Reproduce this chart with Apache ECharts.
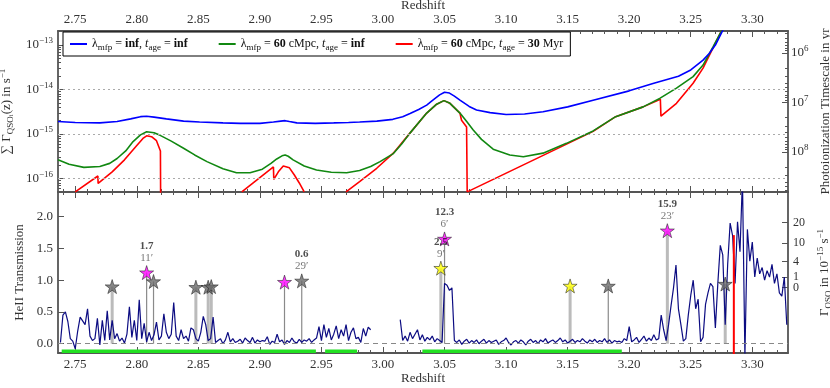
<!DOCTYPE html>
<html><head><meta charset="utf-8">
<script src="https://cdn.jsdelivr.net/npm/echarts@6/dist/echarts.min.js"></script>
<style>html,body{margin:0;padding:0;background:#fff}#c{width:830px;height:388px}</style>
</head><body><div id="c"></div>
<script>
// ---------------- DATA ----------------
// Redshift tick labels
const zMajorTicks = [2.75,2.80,2.85,2.90,2.95,3.00,3.05,3.10,3.15,3.20,3.25,3.30];
const zMinorTicks = [2.74,2.76,2.77,2.78,2.79,2.81,2.82,2.83,2.84,2.86,2.87,2.88,2.89,2.91,2.92,2.93,2.94,2.96,2.97,2.98,2.99,
  3.01,3.02,3.03,3.04,3.06,3.07,3.08,3.09,3.11,3.12,3.13,3.14,3.16,3.17,3.18,3.19,3.21,3.22,3.23,3.24,3.26,3.27,3.28,3.29,3.31,3.32];
const gammaExpTicks = [-16,-15,-14,-13];      // log10 of summed Gamma (s^-1)
const timeExpTicks = [6,7,8];                 // log10 of timescale (yr)
const transTicks = [0,0.5,1.0,1.5,2.0];
const gammaQsoTickLabels = ['0','1','4','10','20'];     // right axis of lower panel (10^-15 s^-1)
const gammaQsoTickTrans  = [0.882,1.046,1.291,1.581,1.905]; // where they sit on transmission scale

// Upper panel curves: redshift and log10(sum Gamma_QSO)
const blueZ = [2.736,2.750,2.770,2.784,2.795,2.803,2.808,2.814,2.824,2.838,2.851,2.870,2.884,2.900,2.911,2.917,2.9205,2.924,2.930,2.945,2.960,2.972,2.981,2.995,3.008,3.016,3.022,3.029,3.0355,3.040,3.046,3.050,3.054,3.058,3.0625,3.070,3.076,3.087,3.100,3.115,3.130,3.150,3.1707,3.200,3.220,3.240,3.250,3.260,3.265,3.270,3.2757,3.280];
const blueG = [-14.72,-14.74,-14.75,-14.72,-14.66,-14.61,-14.60,-14.62,-14.66,-14.71,-14.73,-14.75,-14.76,-14.76,-14.73,-14.71,-14.70,-14.72,-14.75,-14.76,-14.75,-14.74,-14.73,-14.71,-14.67,-14.61,-14.54,-14.45,-14.35,-14.25,-14.12,-14.06,-14.08,-14.15,-14.24,-14.38,-14.46,-14.52,-14.56,-14.55,-14.50,-14.39,-14.24,-14.03,-13.86,-13.70,-13.56,-13.34,-13.19,-13.00,-12.69,-12.45];
const greenZ = [2.736,2.745,2.757,2.770,2.778,2.784,2.791,2.797,2.803,2.808,2.814,2.819,2.828,2.838,2.847,2.857,2.870,2.881,2.892,2.902,2.909,2.9137,2.918,2.9205,2.923,2.927,2.936,2.946,2.958,2.9705,2.981,2.990,2.9976,3.0084,3.015,3.0219,3.0355,3.0436,3.0495,3.0544,3.0625,3.068,3.0733,3.080,3.0895,3.103,3.114,3.130,3.149,3.1707,3.189,3.2113,3.2248,3.2384,3.2519,3.260,3.2681,3.2749,3.280];
const greenG = [-15.58,-15.68,-15.75,-15.73,-15.66,-15.55,-15.38,-15.17,-15.02,-14.95,-14.97,-15.03,-15.16,-15.32,-15.47,-15.62,-15.78,-15.87,-15.87,-15.79,-15.66,-15.56,-15.49,-15.47,-15.50,-15.58,-15.72,-15.81,-15.86,-15.87,-15.82,-15.73,-15.62,-15.44,-15.23,-14.98,-14.53,-14.33,-14.25,-14.31,-14.53,-14.72,-14.91,-15.12,-15.34,-15.47,-15.51,-15.43,-15.21,-14.93,-14.61,-14.39,-14.20,-13.97,-13.71,-13.45,-13.04,-12.69,-12.40];
// null = break in the curve
const redZ = [2.750,2.7684,2.7686,2.780,2.790,2.800,2.805,2.808,2.812,2.816,2.8192,2.8194, null,
  2.8853,2.911,2.9113,2.915,2.919,2.9205,2.924,2.928,2.932,2.936, null,
  2.970,2.981,2.9949,3.0084,3.0219,3.0355,3.0436,3.0495,3.0544,3.0625,3.0638,3.0679,3.0684,3.1707,3.189,3.2113,3.2253,3.2258,3.2384,3.2519,3.260,3.268,3.2749,3.280];
const redG = [-16.30,-15.944,-16.11,-15.85,-15.58,-15.26,-15.10,-15.04,-15.06,-15.15,-15.38,-16.60, null,
  -16.30,-15.74,-16.02,-15.85,-15.72,-15.71,-15.76,-15.92,-16.10,-16.30, null,
  -16.30,-16.07,-15.77,-15.43,-14.98,-14.53,-14.33,-14.25,-14.31,-14.53,-14.69,-14.84,-16.30,-14.94,-14.61,-14.39,-14.22,-14.60,-14.31,-13.86,-13.52,-13.07,-12.69,-12.40];
const curveNames = ['c_inf','c_60','c_60_30'];
const legendLabels = [
  'λ{sub|mfp} = {bd|inf}, {it|t}{sub|age} = {bd|inf}',
  'λ{sub|mfp} = {bd|60} cMpc, {it|t}{sub|age} = {bd|inf}',
  'λ{sub|mfp} = {bd|60} cMpc, {it|t}{sub|age} = {bd|30} Myr'
];

// Lower panel: HeII transmission spectrum, sampled every 0.002 in redshift
const specStep = 0.002;
const spec1Start = 2.738;
const spec1T = [0.02,0.45,0.50,0.35,0.08,0.04,-0.08,0.20,0.42,0.36,0.30,0.55,0.12,0.05,0.08,0.40,-0.02,0.37,0.05,0.52,
  0.06,0.37,0.08,0.16,0.04,0.09,0.01,0.15,0.58,0.10,0.37,0.05,0.69,0.08,0.32,0.03,0.18,0.05,0.14,0.34,
  0.06,0.12,0.47,0.18,0.08,0.15,0.65,0.12,0.05,0.22,0.08,0.12,0.04,0.25,0.22,0.08,0.04,0.18,0.43,0.30,
  0.05,0.08,0.42,0.02,0.05,0.08,0.00,0.06,0.18,0.03,0.08,0.02,0.04,0.07,0.01,0.09,0.05,0.02,0.10,0.01,
  0.06,0.03,0.05,0.04,0.11,-0.01,0.04,0.02,0.15,0.03,0.06,-0.01,0.05,0.02,0.09,0.03,0.01,0.07,0.02,0.06,
  0.04,0.08,0.02,0.06,0.09,0.27,0.05,0.30,0.10,0.24,0.06,0.15,0.28,0.08,0.22,0.12,0.30,0.05,0.18,0.25,
  0.08,0.10,0.02,0.24,0.12,0.26,0.22];
const spec2Start = 3.014;
const spec2T = [0.38,0.05,0.12,0.04,0.18,0.08,0.15,0.22,0.06,0.14,0.04,0.10,0.06,0.12,0.03,0.08,0.05,0.02,
  0.95,0.92,0.84,0.88,
  0.05,0.02,0.06,-0.01,0.04,0.07,0.01,0.05,0.02,0.06,0.00,0.04,0.07,0.01,0.05,0.02,0.04,0.06,-0.01,0.03,0.05,0.09,0.02,-0.02,0.03,
  0.05,0.01,0.06,0.03,-0.02,0.04,0.07,0.02,0.05,0.00,0.06,0.03,0.08,0.01,0.04,0.06,0.02,0.05,0.09,0.03,0.06,0.01,0.04,0.07,0.02,0.05,0.03,0.08,0.04,0.01,0.06,0.03,0.07,0.02,0.05,0.03,0.08,0.02,0.06,0.01,0.05,0.03,
  0.04,0.02,0.08,0.05,0.27,0.03,0.06,0.10,0.02,0.07,0.12,0.04,0.09,0.05,0.14,0.06,0.08,0.45,0.22,0.05,0.30,0.60,0.88,1.24,0.55,0.30,0.04,0.08,0.45,0.76,1.00,0.55,0.70,0.03,0.10,0.62,0.80,0.95,0.90,0.25,0.95,1.55,1.40,0.30,1.25,1.90,1.70,0.95,1.92,1.45,2.60,-0.20,1.80,1.30,1.60,1.05,1.35,1.10,1.20,1.00,1.15,1.05,1.25,0.95,1.10,0.80,0.75,1.05,0.30];

// Foreground quasars (stars)
const starZ    = [2.780,2.808,2.8136,2.848,2.858,2.8605,2.920,2.934,3.047,3.050,3.152,3.183,3.231,3.278];
const starT    = [0.90,1.12,0.98,0.89,0.89,0.90,0.97,0.99,1.19,1.65,0.91,0.91,1.78,0.94];
const starKind = ['gray','magenta','gray','gray','gray','gray','magenta','gray','yellow','magenta','yellow','gray','magenta','gray'];
const starSight= ['light','dark','dark','light','light','light','dark','dark','light','dark','light','dark','light','light'];
const starGamma= ['','1.7','','','','','','0.6','2.5','12.3','','','15.9',''];
const starSep  = ['','11′','','','','','','29′','9′','6′','','','23′',''];
// Regions used (green bars) and the background quasar
const usedRanges = [[2.739,2.9455],[2.953,2.979],[3.032,3.194]];
const qsoName = 'Q 0302';
const qsoRedshift = 3.285;
const qsoLabel = 'z = 3.29';

// ---------------- CHART ----------------
const FONT = '"Liberation Serif","DejaVu Serif",serif';
const C_AX = '#555', C_TXT = '#333';
const zMin = 2.736, zMax = 3.329;
const gMin = -16.303, gMax = -12.685;
const tMin = 5.556, tMax = 8.808;
const TRmin = -0.146, TRmax = 2.389;

const rich = {
  sub: {fontFamily: FONT, fontSize: 9, lineHeight: 9, verticalAlign: 'bottom'},
  sub2: {fontFamily: FONT, fontSize: 7, lineHeight: 7, verticalAlign: 'bottom'},
  sup: {fontFamily: FONT, fontSize: 9, lineHeight: 9, verticalAlign: 'top'},
  bd: {fontFamily: FONT, fontSize: 12, lineHeight: 16, fontWeight: 'bold'},
  it: {fontFamily: FONT, fontSize: 12, lineHeight: 16, fontStyle: 'italic'},
  n: {fontFamily: FONT, fontSize: 13, lineHeight: 17}
};
function withColor(r, col) {
  const o = {};
  for (const k in r) o[k] = Object.assign({}, r[k], {color: col});
  return o;
}
const minus = n => (n < 0 ? '−' : '') + Math.abs(n);

const log10Minor = (lo, hi) => {
  const out = [];
  for (let e = Math.floor(lo) - 1; e <= Math.ceil(hi); e++)
    for (let k = 2; k <= 9; k++) { const v = e + Math.log10(k); if (v > lo && v < hi) out.push(v); }
  return out;
};

function mkX(gridIndex, position, showLabels, showName, minor) {
  return {
    type: 'value', gridIndex, position, min: zMin, max: zMax,
    name: showName ? 'Redshift' : '', nameLocation: 'middle', nameGap: 19,
    nameTextStyle: {fontFamily: FONT, fontSize: 13, color: C_TXT},
    axisLine: {show: !minor, onZero: false, lineStyle: {color: C_AX, width: 1.8}},
    axisTick: {show: true, inside: true, length: minor ? 3 : 6, customValues: minor ? zMinorTicks : zMajorTicks, lineStyle: {color: C_AX, width: 1}},
    axisLabel: {show: showLabels, customValues: zMajorTicks, formatter: v => v.toFixed(2), margin: 5, fontFamily: FONT, fontSize: 13, color: C_TXT},
    splitLine: {show: false}
  };
}

const xAxes = [
  mkX(0, 'top', true, true, false),
  mkX(0, 'bottom', false, false, false),
  mkX(0, 'top', false, false, true),
  mkX(0, 'bottom', false, false, true),
  mkX(1, 'bottom', true, true, false),
  mkX(1, 'top', false, false, false),
  mkX(1, 'bottom', false, false, true),
  mkX(1, 'top', false, false, true)
];

const gqLabel = v => {
  let best = 0;
  gammaQsoTickTrans.forEach((p, i) => { if (Math.abs(p - v) < Math.abs(gammaQsoTickTrans[best] - v)) best = i; });
  return gammaQsoTickLabels[best];
};

const baseY = {type: 'value', splitLine: {show: false}};
const yAxes = [
  Object.assign({}, baseY, {
    gridIndex: 0, position: 'left', min: gMin, max: gMax,
    name: '∑ Γ{sub|QSO}{sub2|i}(z) in s{sup|−1}', nameLocation: 'middle', nameGap: 34, nameRotate: 90,
    nameTextStyle: {fontFamily: FONT, fontSize: 13, lineHeight: 17, color: C_TXT, rich: withColor(rich, C_TXT)},
    axisLine: {show: true, onZero: false, lineStyle: {color: C_AX, width: 1.8}},
    axisTick: {show: true, inside: true, length: 6, customValues: gammaExpTicks, lineStyle: {color: C_AX}},
    axisLabel: {customValues: gammaExpTicks, formatter: v => '{n|10}{sup|' + minus(Math.round(v)) + '}', margin: 5, rich: withColor(rich, C_TXT)}
  }),
  Object.assign({}, baseY, {
    gridIndex: 0, position: 'left', min: gMin, max: gMax,
    axisLine: {show: false, onZero: false},
    axisTick: {show: true, inside: true, length: 3, customValues: log10Minor(gMin, gMax), lineStyle: {color: C_AX}},
    axisLabel: {show: false}
  }),
  Object.assign({}, baseY, {
    gridIndex: 0, position: 'right', min: tMin, max: tMax, inverse: true,
    name: 'Photoionization Timescale in yr', nameLocation: 'middle', nameGap: 21, nameRotate: 90,
    nameTextStyle: {fontFamily: FONT, fontSize: 13, color: C_TXT},
    axisLine: {show: true, onZero: false, lineStyle: {color: C_AX, width: 1.8}},
    axisTick: {show: true, inside: true, length: 6, customValues: timeExpTicks, lineStyle: {color: C_AX}},
    axisLabel: {customValues: timeExpTicks, formatter: v => '{n|10}{sup|' + minus(Math.round(v)) + '}', margin: 3, rich: withColor(rich, C_TXT)}
  }),
  Object.assign({}, baseY, {
    gridIndex: 0, position: 'right', min: tMin, max: tMax, inverse: true,
    axisLine: {show: false, onZero: false},
    axisTick: {show: true, inside: true, length: 3, customValues: log10Minor(tMin, tMax), lineStyle: {color: C_AX}},
    axisLabel: {show: false}
  }),
  Object.assign({}, baseY, {
    gridIndex: 1, position: 'left', min: TRmin, max: TRmax,
    name: 'HeII Transmission', nameLocation: 'middle', nameGap: 23, nameRotate: 90,
    nameTextStyle: {fontFamily: FONT, fontSize: 13, color: C_TXT},
    axisLine: {show: true, onZero: false, lineStyle: {color: C_AX, width: 1.8}},
    axisTick: {show: true, inside: true, length: 6, customValues: transTicks, lineStyle: {color: C_AX}},
    axisLabel: {customValues: transTicks, formatter: v => v.toFixed(1), margin: 5, fontFamily: FONT, fontSize: 13, color: C_TXT}
  }),
  Object.assign({}, baseY, {
    gridIndex: 1, position: 'right', min: TRmin, max: TRmax,
    name: 'Γ{sub|QSO} in 10{sup|−15} s{sup|−1}', nameLocation: 'middle', nameGap: 21, nameRotate: 90,
    nameTextStyle: {fontFamily: FONT, fontSize: 13, lineHeight: 17, color: C_TXT, rich: withColor(rich, C_TXT)},
    axisLine: {show: true, onZero: false, lineStyle: {color: C_AX, width: 1.8}},
    axisTick: {show: true, inside: true, length: 6, customValues: gammaQsoTickTrans, lineStyle: {color: C_AX}},
    axisLabel: {customValues: gammaQsoTickTrans.slice(1), hideOverlap: false,
      formatter: gqLabel, margin: 5, fontFamily: FONT, fontSize: 12, color: C_TXT}
  }),
  Object.assign({}, baseY, {
    gridIndex: 1, position: 'right', min: TRmin, max: TRmax,
    axisLine: {show: false, onZero: false},
    axisTick: {show: false},
    axisLabel: {customValues: gammaQsoTickTrans.slice(0, 1), hideOverlap: false,
      formatter: gqLabel, margin: 5, fontFamily: FONT, fontSize: 12, color: C_TXT}
  })
];

const pairs = (zs, vs) => zs.map((z, i) => (z === null ? ['-', '-'] : [z, vs[i]]));
const specPairs = (start, arr) => arr.map((t, i) => [+(start + i * specStep).toFixed(4), t]);

const series = [];
// upper panel curves
const curveData = [pairs(blueZ, blueG), pairs(greenZ, greenG), pairs(redZ, redG)];
const curveColors = ['#0000ff', '#118811', '#ff0000'];
curveNames.forEach((nm, i) => {
  series.push({
    name: nm, type: 'line', xAxisIndex: 0, yAxisIndex: 0, data: curveData[i],
    showSymbol: false, symbol: 'none', smooth: false, connectNulls: false, clip: true,
    lineStyle: {color: curveColors[i], width: 1.6}, itemStyle: {color: curveColors[i]}, z: 3 + (2 - i),
    markLine: i === 0 ? {
      silent: true, symbol: 'none', label: {show: false},
      lineStyle: {color: '#aaa', type: [2, 3], width: 1},
      data: [{yAxis: -14}, {yAxis: -15}, {yAxis: -16}]
    } : undefined
  });
});

// sightlines
starZ.forEach((z, i) => {
  const light = starSight[i] === 'light';
  series.push({
    type: 'line', xAxisIndex: 4, yAxisIndex: 4, data: [[z, 0], [z, starT[i]]],
    symbol: 'none', silent: true, z: 2,
    lineStyle: {color: light ? '#bbbbbb' : '#8a8a8a', width: light ? 3 : 1.2}
  });
});

// spectrum
[[spec1Start, spec1T], [spec2Start, spec2T]].forEach(([s, arr], k) => {
  series.push({
    type: 'line', xAxisIndex: 4, yAxisIndex: 4, data: specPairs(s, arr),
    symbol: 'none', silent: true, clip: true, z: 3,
    lineStyle: {color: '#0c0c82', width: 1.2},
    markLine: k === 0 ? {
      silent: true, symbol: 'none', label: {show: false},
      lineStyle: {color: '#888', type: [5, 4], width: 1},
      data: [{yAxis: 0}]
    } : undefined
  });
});

// green bars
usedRanges.forEach(r => {
  series.push({
    type: 'line', xAxisIndex: 4, yAxisIndex: 4, data: [[r[0], -0.118], [r[1], -0.118]],
    symbol: 'none', silent: true, z: 4, lineStyle: {color: '#22e022', width: 3.5}
  });
});

// background quasar redshift line
series.push({
  type: 'line', xAxisIndex: 4, yAxisIndex: 4, data: [[qsoRedshift, -0.3], [qsoRedshift, 1.71]],
  symbol: 'none', silent: true, z: 5, clip: true, lineStyle: {color: '#ff0000', width: 2}
});

// stars
const STAR = 'path://M0,-100L22.45,-30.9L95.1,-30.9L36.3,11.8L58.8,80.9L0,38.2L-58.8,80.9L-36.3,11.8L-95.1,-30.9L-22.45,-30.9Z';
const starFill = {gray: '#6a6a6a', magenta: '#ff00ff', yellow: '#ffff00'};
series.push({
  type: 'scatter', xAxisIndex: 4, yAxisIndex: 4, symbol: STAR, symbolSize: 14, z: 8,
  data: starZ.map((z, i) => ({
    value: [z, starT[i]],
    itemStyle: {color: starFill[starKind[i]], borderColor: '#222', borderWidth: 0.7},
    label: starGamma[i] ? {
      show: true, position: 'top', distance: 1,
      formatter: '{v|' + starGamma[i] + '}\n{d|' + starSep[i] + '}',
      rich: {
        v: {fontFamily: FONT, fontSize: 11, lineHeight: 12, fontWeight: 'bold', color: '#222', align: 'center'},
        d: {fontFamily: FONT, fontSize: 11, lineHeight: 12, color: '#555', align: 'center'}
      }
    } : {show: false}
  }))
});

// QSO annotation
series.push({
  type: 'scatter', xAxisIndex: 4, yAxisIndex: 4, symbol: 'none', z: 9, silent: true,
  data: [
    {value: [3.2656, 2.17], label: {show: true, position: 'inside', formatter: qsoName, fontFamily: FONT, fontSize: 14, fontWeight: 'bold', color: '#ff1a1a'}},
    {value: [3.2665, 1.955], label: {show: true, position: 'inside', formatter: qsoLabel, fontFamily: FONT, fontSize: 13, color: '#ff5050'}}
  ]
});

const chart = echarts.init(document.getElementById('c'));
chart.setOption({
  animation: false,
  backgroundColor: '#fff',
  grid: [
    {left: 58, right: 42, top: 31, height: 161, outerBoundsMode: 'none', containLabel: false},
    {left: 58, right: 42, top: 192, height: 161, outerBoundsMode: 'none', containLabel: false}
  ],
  legend: {
    data: curveNames, left: 63, top: 32, orient: 'horizontal',
    padding: [4, 7, 4, 7], itemWidth: 17, itemHeight: 2, itemGap: 31, icon: 'rect',
    borderColor: '#000', borderWidth: 1, backgroundColor: '#fff', borderRadius: 0,
    formatter: name => legendLabels[curveNames.indexOf(name)],
    textStyle: {fontFamily: FONT, fontSize: 12, lineHeight: 16, color: '#111', rich: withColor(rich, '#111')}
  },
  xAxis: xAxes,
  yAxis: yAxes,
  series
});
</script>
</body></html>
